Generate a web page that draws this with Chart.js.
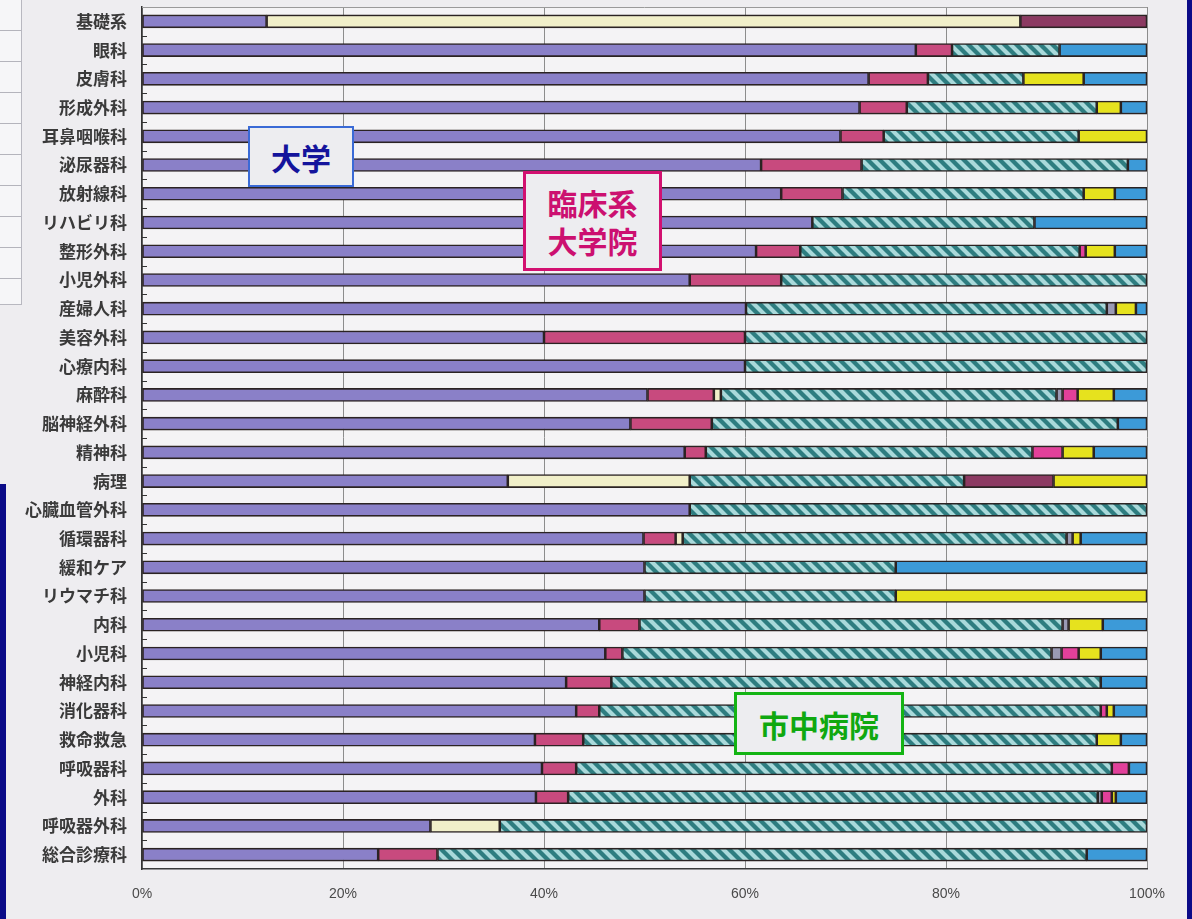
<!DOCTYPE html>
<html lang="ja">
<head>
    <meta charset="UTF-8">
    <script src="https://cdn.jsdelivr.net/npm/chart.js"></script>
    <title>診療科別 進路</title>
    <style>
        * { margin: 0; padding: 0; box-sizing: border-box; }
        body { width: 1192px; height: 919px; background: #eeedf0; position: relative; overflow: hidden;
               font-family: "Noto Sans CJK JP", sans-serif; }
        #wrap { position: absolute; left: 0; top: 0; width: 1192px; height: 919px; }
        .strip { position: absolute; background: #0b0b88; }
        .sheet { position: absolute; left: 0; top: 0; width: 22px; height: 305px; background: #f6f6f8;
                 border-right: 1px solid #b8b8c0; border-bottom: 1px solid #b8b8c0;
                 background-image: repeating-linear-gradient(to bottom, transparent 0, transparent 30px, #b4b4bc 30px, #b4b4bc 31px); }
        .tag { position: absolute; display: flex; align-items: center; justify-content: center; text-align: center;
               background: #ededf0; font-weight: bold; font-size: 30px; line-height: 38px; }
    </style>
</head>
<body>
    <div class="sheet"></div>
    <div class="strip" style="left:0; top:484px; width:6px; height:435px;"></div>
    <div class="strip" style="left:1187px; top:0; width:5px; height:919px;"></div>
    <div id="wrap"><canvas id="chart" width="1192" height="919"></canvas></div>

    <div class="tag" style="left:248px; top:126px; width:106px; height:61px; border:2px solid #3a6ad6; color:#14149c;">大学</div>
    <div class="tag" style="left:523px; top:171px; width:139px; height:100px; border:3px solid #d21070; color:#cc1070;">臨床系<br>大学院</div>
    <div class="tag" style="left:734px; top:692px; width:170px; height:63px; border:3px solid #14b414; color:#10a810;">市中病院</div>

<script>
    // 診療科（上から順）
    const departments = ['基礎系', '眼科', '皮膚科', '形成外科', '耳鼻咽喉科', '泌尿器科', '放射線科', 'リハビリ科',
        '整形外科', '小児外科', '産婦人科', '美容外科', '心療内科', '麻酔科', '脳神経外科', '精神科', '病理',
        '心臓血管外科', '循環器科', '緩和ケア', 'リウマチ科', '内科', '小児科', '神経内科', '消化器科', '救命救急',
        '呼吸器科', '外科', '呼吸器外科', '総合診療科'];

    // 進路別の割合 (%)
    const university = [12.4, 77.0, 72.3, 71.4, 69.5, 61.6, 63.6, 66.7, 61.1, 54.5, 60.1, 40, 60, 50.3, 48.6, 54.0, 36.4,
        54.5, 49.9, 50, 50, 45.5, 46.1, 42.2, 43.2, 39.1, 39.8, 39.2, 28.7, 23.5];
    const clinicalGrad = [null, 3.6, 5.9, 4.7, 4.3, 10.0, 6.1, null, 4.4, 9.1, null, 20, null, 6.6, 8.1, 2.1, null,
        null, 3.2, null, null, 4.0, 1.7, 4.5, 2.3, 4.8, 3.4, 3.2, null, 5.9];
    const basicGrad = [75.0, null, null, null, null, null, null, null, null, null, null, null, null, 0.7, null, null, 18.1,
        null, 0.7, null, null, null, null, null, null, null, null, null, 6.9, null];
    const cityHospital = [null, 10.7, 9.5, 18.9, 19.4, 26.5, 24.0, 22.1, 27.8, 36.4, 35.9, 40, 40, 33.4, 40.4, 32.5, 27.3,
        45.5, 38.2, 25, 25, 42.1, 42.7, 48.7, 49.9, 51.1, 53.3, 52.7, 64.4, 64.6];
    const other = [null, null, null, null, null, null, null, null, null, null, 0.9, null, null, 0.6, null, null, null,
        null, 0.6, null, null, 0.6, 1.0, null, null, null, null, 0.4, null, null];
    const research = [12.6, null, null, null, null, null, null, null, null, null, null, null, null, null, null, null, 8.9,
        null, null, null, null, null, null, null, null, null, null, null, null, null];
    const abroad = [null, null, null, null, null, null, null, null, 0.6, null, null, null, null, 1.5, null, 3.0, null,
        null, null, null, null, null, 1.7, null, 0.6, null, 1.7, 1.0, null, null];
    const practice = [null, null, 6.0, 2.4, 6.8, null, 3.1, null, 2.9, null, 2.0, null, null, 3.6, null, 3.1, 9.3,
        null, 0.8, null, 25, 3.4, 2.2, null, 0.7, 2.4, null, 0.4, null, null];
    const undecided = [null, 8.7, 6.3, 2.6, null, 1.9, 3.2, 11.2, 3.2, null, 1.1, null, null, 3.3, 2.9, 5.3, null,
        null, 6.6, 25, null, 4.4, 4.6, 4.6, 3.3, 2.6, 1.8, 3.1, null, 6.0];

    const xTicks = [0, 20, 40, 60, 80, 100];

    // 市中病院の斜線パターン
    const makeHatch = () => {
        const c = document.createElement('canvas');
        c.width = 12; c.height = 12;
        const g = c.getContext('2d');
        g.fillStyle = '#a9d9da';
        g.fillRect(0, 0, 12, 12);
        g.strokeStyle = '#2e7d80';
        g.lineWidth = 4.3;
        for (let k = -24; k <= 24; k += 12) {
            g.beginPath();
            g.moveTo(k - 2, -2);
            g.lineTo(k + 14, 14);
            g.stroke();
        }
        return g.createPattern(c, 'repeat');
    };

    const ctx = document.getElementById('chart').getContext('2d');
    const edge = '#2b2323';

    const series = [
        ['大学', university, '#8a80c8'],
        ['臨床系大学院', clinicalGrad, '#c84a7e'],
        ['基礎系大学院', basicGrad, '#f1efc9'],
        ['市中病院', cityHospital, makeHatch()],
        ['その他', other, '#9a9ab4'],
        ['研究機関', research, '#8c3a62'],
        ['留学', abroad, '#e2409a'],
        ['開業', practice, '#e6e21e'],
        ['未定', undecided, '#3c9ad8'],
    ];

    // 軸の内側に付く目盛り線と枠
    const frame = {
        id: 'frame',
        beforeDraw(chart) {
            const { ctx, chartArea: a } = chart;
            ctx.save();
            ctx.fillStyle = '#f4f3f5';
            ctx.fillRect(a.left, a.top, a.right - a.left, a.bottom - a.top);
            ctx.restore();
        },
        afterDraw(chart) {
            const { ctx, chartArea: a, scales } = chart;
            const y = scales.y;
            ctx.save();
            ctx.strokeStyle = '#9a9a9a';
            ctx.lineWidth = 1;
            ctx.beginPath();
            ctx.moveTo(a.left, a.top + 0.5);
            ctx.lineTo(a.right, a.top + 0.5);
            ctx.stroke();
            ctx.strokeStyle = '#333';
            ctx.beginPath();
            for (let i = 0; i < departments.length - 1; i++) {
                const yy = Math.round((y.getPixelForValue(i) + y.getPixelForValue(i + 1)) / 2) + 0.5;
                ctx.moveTo(a.left, yy);
                ctx.lineTo(a.left + 5, yy);
            }
            ctx.stroke();
            ctx.restore();
        }
    };

    new Chart(ctx, {
        type: 'bar',
        data: {
            labels: departments,
            datasets: series.map(([label, data, color]) => ({
                label: label,
                data: data,
                backgroundColor: color,
                borderColor: edge,
                borderWidth: 1.6,
                borderSkipped: false,
                barThickness: 13,
            }))
        },
        options: {
            indexAxis: 'y',
            responsive: false,
            animation: false,
            layout: { padding: { top: 7, right: 45, left: 0, bottom: 0 } },
            plugins: {
                legend: { display: false },
                tooltip: { enabled: false },
            },
            scales: {
                x: {
                    stacked: true,
                    min: 0,
                    max: 100,
                    afterBuildTicks: (scale) => { scale.ticks = xTicks.map(v => ({ value: v })); },
                    afterFit: (scale) => { scale.height = 50; scale.paddingLeft = 0; scale.paddingRight = 0; },
                    grid: { color: '#8c8c8c', lineWidth: 1, drawTicks: false },
                    border: { color: '#3a3a3a', width: 1.5 },
                    ticks: {
                        padding: 17,
                        color: '#4a4a4a',
                        font: { family: 'Liberation Sans', size: 14 },
                        callback: (v) => v + '%',
                    }
                },
                y: {
                    stacked: true,
                    afterFit: (scale) => { scale.width = 142; scale.paddingTop = 0; scale.paddingBottom = 0; },
                    grid: { display: false, drawTicks: false },
                    border: { color: '#333', width: 1.5 },
                    ticks: {
                        padding: 15,
                        color: '#3a3a3a',
                        font: { family: 'Noto Sans CJK JP', size: 17, weight: 'bold' },
                    }
                }
            }
        },
        plugins: [frame]
    });
</script>
</body>
</html>
